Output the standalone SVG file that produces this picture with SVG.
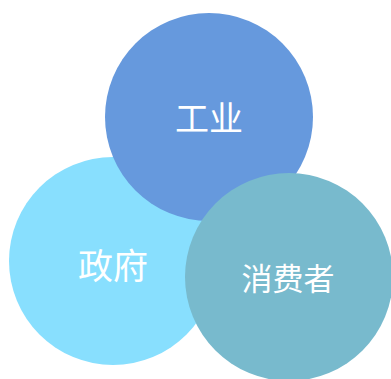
<svg xmlns="http://www.w3.org/2000/svg" width="391" height="379" viewBox="0 0 391 379">
<style>
text{font-family:"Noto Sans CJK SC","Noto Sans CJK JP",sans-serif;fill:#fff;text-anchor:middle;dominant-baseline:central}
</style>
<rect width="391" height="379" fill="#fff"/>
<g id="zhengfu">
<circle cx="113" cy="261" r="104" fill="#88DFFE"/>
<text x="113" y="263" font-size="35">政府</text>
</g>
<g id="gongye">
<circle cx="209" cy="117" r="104" fill="#6699DD"/>
<text x="209" y="116" font-size="34">工业</text>
</g>
<g id="xiaofeizhe">
<circle cx="289" cy="277" r="104" fill="#78BACD"/>
<text x="288" y="276" font-size="31">消费者</text>
</g>
<g id="connectors"></g>
</svg>
